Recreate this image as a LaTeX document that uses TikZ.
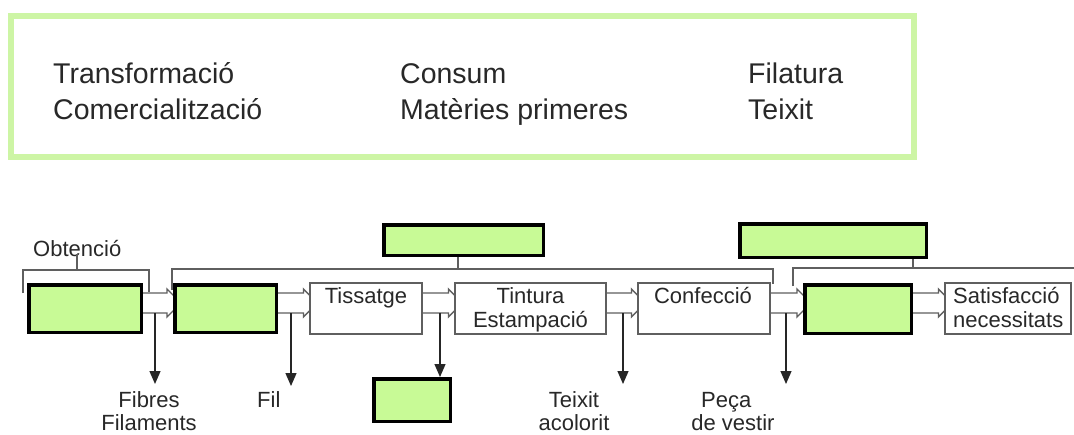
\documentclass[tikz,border=0pt]{standalone}
\usepackage{fontspec}
\setmainfont{Liberation Sans}
\usetikzlibrary{arrows.meta,backgrounds,calc}
\definecolor{boxgreen}{RGB}{200,250,150}
\definecolor{framegreen}{RGB}{205,245,165}
\definecolor{lineg}{RGB}{95,95,95}
\definecolor{txt}{RGB}{40,40,40}
\newcommand\harrow[2]{\draw[harr] let \p1=(#1.east), \p2=(#2.west) in
  (\x1,-293pt) -- (\x2-6pt,-293pt) -- (\x2-6pt,-289pt) -- (\x2+8pt,-303pt) --
  (\x2-6pt,-317pt) -- (\x2-6pt,-313pt) -- (\x1,-313pt);}
\begin{document}
\begin{tikzpicture}[x=1pt,y=-1pt,
  gbox/.style={draw=black, line width=3.5pt, fill=boxgreen, inner sep=0pt},
  wbox/.style={draw=lineg, line width=1.2pt, fill=white, inner sep=0pt, minimum height=51pt},
  lbl/.style={font=\fontsize{22}{26}\selectfont, inner sep=0pt, anchor=base, text=txt},
  toplbl/.style={font=\fontsize{28.5}{32}\selectfont, inner sep=0pt, anchor=base west, text=txt},
  harr/.style={draw=lineg, line width=1.3pt},
  brk/.style={draw=lineg, line width=1.2pt},
  darr/.style={draw=black!85, line width=1.3pt, -{Triangle[width=11pt,length=13pt]}}]
\useasboundingbox (0,0) rectangle (1074,434);

% top frame
\draw[framegreen, line width=6pt] (11,16) rectangle (914,157);
\node[toplbl] (w1) at (53,83) {Transformació};
\node[toplbl] (w2) at (53,119) {Comercialització};
\node[toplbl] (w3) at (400,83) {Consum};
\node[toplbl] (w4) at (400,119) {Matèries primeres};
\node[toplbl] (w5) at (748,83) {Filatura};
\node[toplbl] (w6) at (748,119) {Teixit};

% green boxes
\node[gbox, minimum width=112.5pt, minimum height=47.5pt] (b1) at (85,308.5) {};
\node[gbox, minimum width=101.5pt, minimum height=47.5pt] (b2) at (225.5,308.5) {};
\node[gbox, minimum width=106.5pt, minimum height=48.5pt] (b3) at (858,309) {};
\node[gbox, minimum width=159.5pt, minimum height=30.5pt] (gt1) at (463.5,240) {};
\node[gbox, minimum width=186.5pt, minimum height=33.5pt] (gt2) at (833,240.5) {};
\node[gbox, minimum width=76.5pt, minimum height=42.5pt] (gb) at (412,400) {};

% white boxes
\node[wbox, minimum width=112pt] (t1) at (366,308.5) {};
\node[wbox, minimum width=151pt] (t2) at (530.5,308.5) {};
\node[wbox, minimum width=132pt] (t3) at (704,308.5) {};
\node[wbox, minimum width=126pt] (t4) at (1008,308.5) {};

\node[lbl] (t1a) at (366,303) {Tissatge};
\node[lbl] (t2a) at (530.5,303) {Tintura};
\node[lbl] (t2b) at (530.5,327) {Estampació};
\node[lbl] (t3a) at (703,303) {Confecció};
\node[lbl, anchor=base west] (t4a) at (953,303) {Satisfacció};
\node[lbl, anchor=base west] (t4b) at (953,327) {necessitats};

% hollow arrows (behind boxes)
\begin{scope}[on background layer]
\fill[white] (0,0) rectangle (1074,434);
\harrow{b1}{b2}
\harrow{b2}{t1}
\harrow{t1}{t2}
\harrow{t2}{t3}
\harrow{t3}{b3}
\harrow{b3}{t4}
\end{scope}

% brackets
\node[lbl, anchor=base west] (obt) at (33,256) {Obtenció};
\coordinate (s1) at (77,270);
\draw[brk] (23,293) -- (23,270) -- (149,270) -- (149,292);
\draw[brk] (obt.south -| s1) ++(0,2pt) -- (s1);
\coordinate (s2) at (458,269);
\draw[brk] (172,290) -- (172,269) -- (773,269) -- (773,284);
\draw[brk] (gt1.south -| s2) -- (s2);
\coordinate (s3) at (913,268);
\draw[brk] (793,286) -- (793,268) -- (1074,268);
\draw[brk] (gt2.south -| s3) -- (s3);

% down arrows
\coordinate (d1s) at (155,313); \coordinate (d1e) at (155,384);
\coordinate (d2s) at (291,313); \coordinate (d2e) at (291,386);
\coordinate (d3s) at (440,313);
\coordinate (d4s) at (623,313); \coordinate (d4e) at (623,384);
\coordinate (d5s) at (786,313); \coordinate (d5e) at (786,384);
\draw[darr] (d1s) -- (d1e);
\draw[darr] (d2s) -- (d2e);
\draw[darr] (d3s) -- (d3s |- gb.north);
\draw[darr] (d4s) -- (d4e);
\draw[darr] (d5s) -- (d5e);

\node[lbl] (l1a) at (149,407) {Fibres};
\node[lbl] (l1b) at (149,430) {Filaments};
\node[lbl, anchor=base west] (l2) at (257,407) {Fil};
\node[lbl] (l4a) at (574,407) {Teixit};
\node[lbl] (l4b) at (574,430) {acolorit};
\node[lbl, anchor=base west] (l5a) at (701,407) {Peça};
\node[lbl] (l5b) at (733,430) {de vestir};
\end{tikzpicture}
\end{document}
